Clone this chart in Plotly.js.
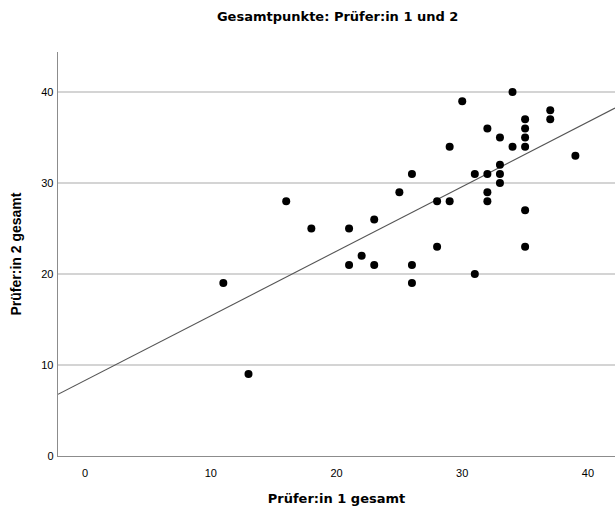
<!DOCTYPE html>
<html>
<head>
<meta charset="utf-8">
<script src="https://cdn.plot.ly/plotly-3.0.1.min.js"></script>
<style>html,body{margin:0;padding:0;background:#fff;}#chart{width:615px;height:506px;}</style>
</head>
<body>
<div id="chart"></div>
<script>
// Prüfer:in 1 gesamt
const pruefer1 = [11,13,16,18,21,21,22,23,23,25,26,26,26,28,28,29,29,30,31,31,32,32,32,32,33,33,33,33,34,34,35,35,35,35,35,35,37,37,39];
// Prüfer:in 2 gesamt
const pruefer2 = [19,9,28,25,25,21,22,26,21,29,31,21,19,28,23,28,34,39,31,20,36,31,29,28,35,32,31,30,40,34,37,36,35,34,27,23,38,37,33];
const xTicks = [0,10,20,30,40];
const yTicks = [0,10,20,30,40];
const xRange = [-2.15, 42.15];
const yRange = [0, 44.4];

// least squares fit line
const n = pruefer1.length;
const mx = pruefer1.reduce((a,b)=>a+b,0)/n;
const my = pruefer2.reduce((a,b)=>a+b,0)/n;
let sxy=0, sxx=0;
for (let i=0;i<n;i++){ sxy += (pruefer1[i]-mx)*(pruefer2[i]-my); sxx += (pruefer1[i]-mx)**2; }
const slope = sxy/sxx, icpt = my - slope*mx;
const lineX = xRange.slice();
const lineY = lineX.map(v => icpt + slope*v);

const font = "Liberation Sans, Arial, sans-serif";
const wide = "DejaVu Sans, Liberation Sans, sans-serif";
const data = [
  {x: lineX, y: lineY, mode: 'lines', type: 'scatter', line: {color: '#555555', width: 1.1}, hoverinfo: 'skip'},
  {x: pruefer1, y: pruefer2, mode: 'markers', type: 'scatter', marker: {color: '#000000', size: 8}}
];
const layout = {
  width: 615, height: 506,
  margin: {l: 58, r: 0, t: 52, b: 50},
  showlegend: false,
  paper_bgcolor: '#ffffff', plot_bgcolor: '#ffffff',
  font: {family: font, color: '#000000', size: 11},
  title: {text: 'Gesamtpunkte: Prüfer:in 1 und 2', font: {family: wide, size: 13, weight: 'bold', color: '#000'}, x: 0.549, xanchor: 'center', y: 0.968, yanchor: 'middle'},
  xaxis: {
    range: xRange, tickvals: xTicks, ticktext: xTicks.map(String),
    showgrid: false, zeroline: false, showline: true, linecolor: '#8c8c8c', linewidth: 1.3,
    ticks: '', ticklabelstandoff: 6,
    title: {text: 'Prüfer:in 1 gesamt', font: {family: wide, size: 13, weight: 'bold'}, standoff: 20},
    automargin: false, fixedrange: true
  },
  yaxis: {
    range: yRange, tickvals: yTicks, ticktext: yTicks.map(String),
    showgrid: true, gridcolor: '#d4d4d4', gridwidth: 1.2, zeroline: false,
    showline: true, linecolor: '#8c8c8c', linewidth: 1.3,
    ticks: '', ticklabelstandoff: 1,
    title: {text: 'Prüfer:in 2 gesamt', font: {family: font, size: 14, weight: 'bold'}, standoff: 16},
    automargin: false, fixedrange: true
  }
};
Plotly.newPlot('chart', data, layout, {staticPlot: true, displayModeBar: false});
</script>
</body>
</html>
